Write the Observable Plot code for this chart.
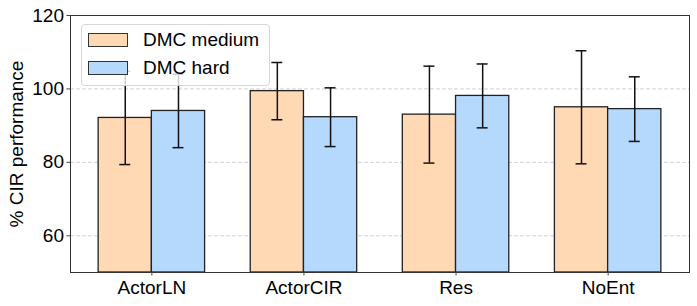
<!DOCTYPE html>
<html><head><meta charset="utf-8">
<script src="https://cdn.jsdelivr.net/npm/d3@7"></script>
<script src="https://cdn.jsdelivr.net/npm/@observablehq/plot@0.6"></script>
<style>
body{margin:0;background:#fff;font-family:"Liberation Sans",Arial,sans-serif;}
#wrap{position:relative;width:697px;height:306px;}
#legend{position:absolute;left:81px;top:24px;width:189px;height:62px;border:1px solid #d6d6d6;border-radius:4px;background:rgba(255,255,255,0.8);box-sizing:border-box;}
.row{position:absolute;left:6px;height:14px;display:flex;align-items:center;}
.sw{width:40px;height:14px;box-sizing:border-box;border:1.2px solid #333;}
.lab{margin-left:15px;font-size:19px;color:#000;line-height:14px;white-space:nowrap;}
#ylab{position:absolute;left:16px;top:143.5px;transform:translate(-50%,-50%) rotate(-90deg);font-size:19px;color:#000;white-space:nowrap;line-height:1;}
</style></head><body><div id="wrap"></div>
<script>
const categories = ["ActorLN", "ActorCIR", "Res", "NoEnt"];
const seriesNames = ["DMC medium", "DMC hard"];
const mediumValues = [92.1, 99.4, 93.0, 95.0];
const mediumErrors = [12.7, 7.8, 13.2, 15.4];
const hardValues = [94.0, 92.3, 98.1, 94.5];
const hardErrors = [10.0, 8.0, 8.7, 8.8];
const yTicks = [60, 80, 100, 120];
const yDomain = [50, 120];
const yLabel = "% CIR performance";
const seriesColors = ["#ffd8b4", "#b5d8fd"];

const barWidth = 0.35;
const capHalf = 0.036;
const rows = [];
categories.forEach((c, i) => {
  [[mediumValues, mediumErrors], [hardValues, hardErrors]].forEach(([vals, errs], s) => {
    const x1 = i + (s === 0 ? -barWidth : 0);
    rows.push({category: c, series: seriesNames[s], value: vals[i], err: errs[i],
      x1, x2: x1 + barWidth, cx: x1 + barWidth / 2});
  });
});

const chart = Plot.plot({
  width: 697, height: 306,
  marginLeft: 70, marginRight: 8, marginTop: 15, marginBottom: 34,
  style: {fontFamily: '"Liberation Sans", Arial, sans-serif', fontSize: "19px", color: "#000", background: "#fff"},
  x: {domain: [-0.535, categories.length - 1 + 0.535]},
  y: {domain: yDomain},
  color: {domain: seriesNames, range: seriesColors},
  marks: [
    Plot.ruleY(yTicks, {stroke: "#c4c4c4", strokeDasharray: "4,2", strokeWidth: 0.8}),
    Plot.rectY(rows, {x1: "x1", x2: "x2", y1: yDomain[0], y2: "value", fill: "series", stroke: "#222", strokeWidth: 1.3}),
    Plot.ruleX(rows, {x: "cx", y1: d => d.value - d.err, y2: d => d.value + d.err, stroke: "#111", strokeWidth: 1.5}),
    Plot.ruleY(rows, {y: d => d.value - d.err, x1: d => d.cx - capHalf, x2: d => d.cx + capHalf, stroke: "#111", strokeWidth: 1.5}),
    Plot.ruleY(rows, {y: d => d.value + d.err, x1: d => d.cx - capHalf, x2: d => d.cx + capHalf, stroke: "#111", strokeWidth: 1.5}),
    Plot.frame({stroke: "#333", strokeWidth: 1}),
    Plot.axisX(categories.map((_, i) => i), {tickFormat: i => categories[i], tickSize: 3.5, tickPadding: 4.5, fontSize: 19, label: null, stroke: "#444"}),
    Plot.axisY(yTicks, {tickSize: 3.5, tickPadding: 3, fontSize: 19, label: null, stroke: "#444"})
  ]
});
const wrap = document.getElementById("wrap");
wrap.appendChild(chart);

const ylab = document.createElement("div");
ylab.id = "ylab";
ylab.textContent = yLabel;
wrap.appendChild(ylab);

const color = chart.scale("color");
const legend = document.createElement("div");
legend.id = "legend";
seriesNames.forEach((name, k) => {
  const row = document.createElement("div");
  row.className = "row";
  row.style.top = (8 + k * 28) + "px";
  const sw = document.createElement("div");
  sw.className = "sw";
  sw.style.background = color.apply(name);
  const lab = document.createElement("span");
  lab.className = "lab";
  lab.textContent = name;
  row.appendChild(sw); row.appendChild(lab);
  legend.appendChild(row);
});
wrap.appendChild(legend);
</script></body></html>
